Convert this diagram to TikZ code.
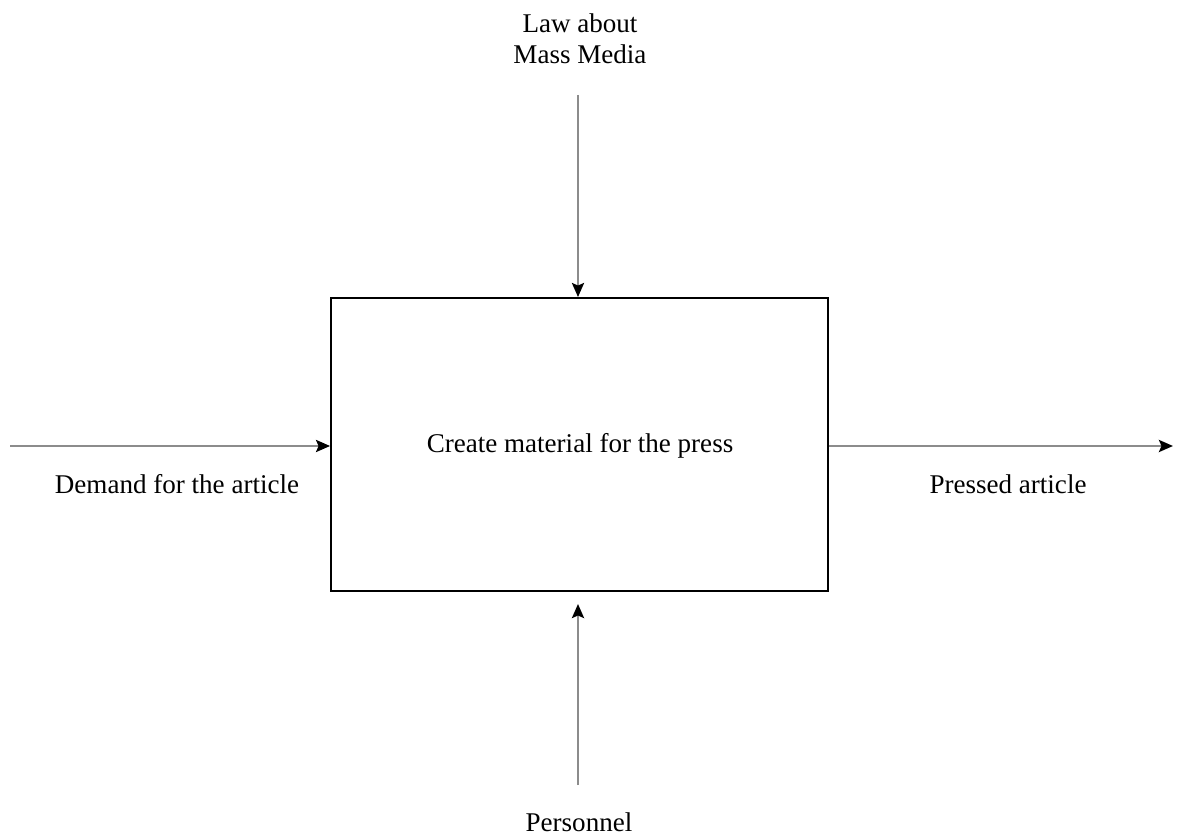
\documentclass[tikz,border=0pt]{standalone}
\usepackage{fontspec}
\setmainfont{Liberation Serif}
\usetikzlibrary{arrows.meta, positioning}
\definecolor{flowline}{RGB}{140, 140, 140}

\begin{document}
\begin{tikzpicture}[
    x=0.02cm, y=-0.02cm,
    proc/.style={draw, line width=1.1pt,
                 minimum width=9.94cm, minimum height=5.86cm,
                 inner sep=0pt},
    flow/.style={line width=1.5pt, color=flowline,
                 -{Stealth[length=2.8mm, width=2.4mm, inset=0.5mm,
                           color=black]}},
    lab/.style={font=\fontsize{15.4}{17.6}\selectfont, inner sep=0pt,
                align=center},
]
\useasboundingbox (0,0) rectangle (1180,837);

% -- Activity box -----------------------------
\node[proc] (box) at (579.5,444.5) {};
\node[lab] (name) at (580,446) {Create material for the press};

% -- Arrow ends and labels ----------------------
\coordinate (inp)  at (10,446);
\coordinate (outp) at (1173,446);
\coordinate (ctl)  at (578,95);
\coordinate (mech) at (578,785);
\coordinate (mechend) at (578,604);

\node[lab] (law)  at (580,39)   {Law about\\Mass Media};
\node[lab] (dem)  at (177,484)  {Demand for the article};
\node[lab] (pres) at (1008,484) {Pressed article};
\node[lab] (pers) at (579,822)  {Personnel};

% -- ICOM arrows -------------------------------
\draw[flow] (inp) -- (box.west |- inp);
\draw[flow] (box.east |- outp) -- (outp);
\draw[flow] (ctl) -- (ctl |- box.north);
\draw[flow] (mech) -- (mechend);

\end{tikzpicture}
\end{document}
